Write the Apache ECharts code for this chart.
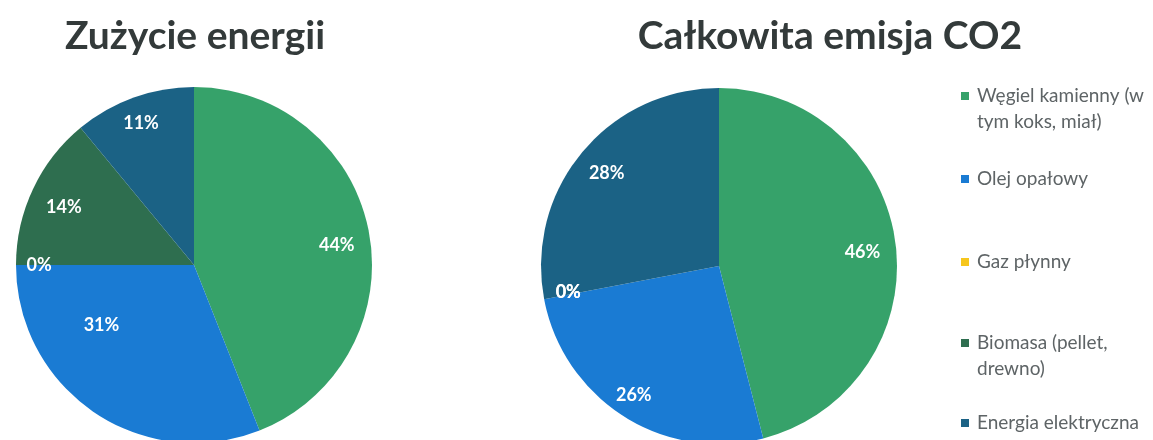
<!DOCTYPE html>
<html>
<head>
<meta charset="utf-8">
<title>Zużycie energii i emisja CO2</title>
<script src="https://cdn.jsdelivr.net/npm/echarts@6/dist/echarts.min.js"></script>
<style>
  html, body { margin: 0; padding: 0; background: #ffffff; }
  #chart { width: 1153px; height: 440px; }
</style>
</head>
<body>
<div id="chart"></div>
<script>
// Energy carriers (shared by both pies and the legend)
const categories = [
  'Węgiel kamienny (w tym koks, miał)',
  'Olej opałowy',
  'Gaz płynny',
  'Biomasa (pellet, drewno)',
  'Energia elektryczna'
];
// Share of each carrier, in percent
const energyUse = [44, 31, 0, 14, 11];
const co2Emission = [46, 26, 0, 0, 28];

const chartTitles = ['Zużycie energii', 'Całkowita emisja CO2'];
// Legend text broken into lines
const legendLabels = [
  'Węgiel kamienny (w\ntym koks, miał)',
  'Olej opałowy',
  'Gaz płynny',
  'Biomasa (pellet,\ndrewno)',
  'Energia elektryczna'
];

const colors = ['#36a26a', '#1a7bd3', '#f6c61d', '#2e6e4f', '#1b6285'];

// Pie geometry
const pieCenters = [[194, 265], [719, 266]];
const pieRadius = 178;
// Label anchors per slice: [angle clockwise from 12 o'clock in degrees, fraction of radius]
const labelAnchors = [
  [[82, 0.81], [237, 0.62], [270, 0.87], [294, 0.80], [339.5, 0.85]],
  [[84.4, 0.81], [213.4, 0.87], [260, 0.86], [260, 0.86], [309.7, 0.82]]
];

const chart = echarts.init(document.getElementById('chart'), null, { renderer: 'canvas' });

function makePie(idx, values) {
  const c = pieCenters[idx];
  return {
    type: 'pie',
    name: chartTitles[idx],
    center: c,
    radius: pieRadius,
    startAngle: 90,
    clockwise: true,
    avoidLabelOverlap: false,
    percentPrecision: 0,
    data: categories.map((name, i) => ({
      name: name,
      value: values[i],
      itemStyle: { color: colors[i] }
    })),
    itemStyle: { borderWidth: 0 },
    label: {
      show: true,
      position: 'inside',
      formatter: '{d}%',
      color: '#ffffff',
      fontFamily: 'Lato',
      fontWeight: 'bold',
      fontSize: 18
    },
    labelLine: { show: false },
    labelLayout: function (params) {
      const a = labelAnchors[idx][params.dataIndex];
      const rad = a[0] * Math.PI / 180;
      return {
        x: c[0] + a[1] * pieRadius * Math.sin(rad),
        y: c[1] - a[1] * pieRadius * Math.cos(rad),
        align: 'center',
        verticalAlign: 'middle'
      };
    },
    emphasis: { scale: false },
    animation: false
  };
}

const titleX = [190, 825];
const legendTops = [78, 161, 244, 325, 405];
const legendLineHeight = 26;

const option = {
  backgroundColor: '#ffffff',
  animation: false,
  title: chartTitles.map((t, i) => ({
    text: t,
    left: titleX[i],
    top: 12,
    textAlign: 'center',
    textStyle: {
      fontFamily: 'Lato',
      fontWeight: 'bold',
      fontSize: 39,
      color: '#333a3a'
    }
  })),
  legend: categories.map((name, i) => {
    const twoLines = legendLabels[i].indexOf('\n') >= 0;
    // for wrapped entries the swatch sits at the top of a taller icon box,
    // so it lines up with the first line of text
    const boxH = twoLines ? 8 + legendLineHeight : 8;
    return {
      data: [name],
      orient: 'vertical',
      left: 956,
      top: legendTops[i],
      icon: twoLines ? 'path://M0,0h8v8h-8z M0,' + boxH + 'h8' : 'rect',
      itemWidth: 8,
      itemHeight: boxH,
      itemGap: 0,
      selectedMode: false,
      formatter: () => legendLabels[i],
      textStyle: {
        fontFamily: 'Lato',
        fontSize: 19,
        color: '#5e6466',
        lineHeight: legendLineHeight,
        padding: [0, 0, 0, 3]
      }
    };
  }),
  series: [makePie(0, energyUse), makePie(1, co2Emission)]
};

chart.setOption(option);
</script>
</body>
</html>
